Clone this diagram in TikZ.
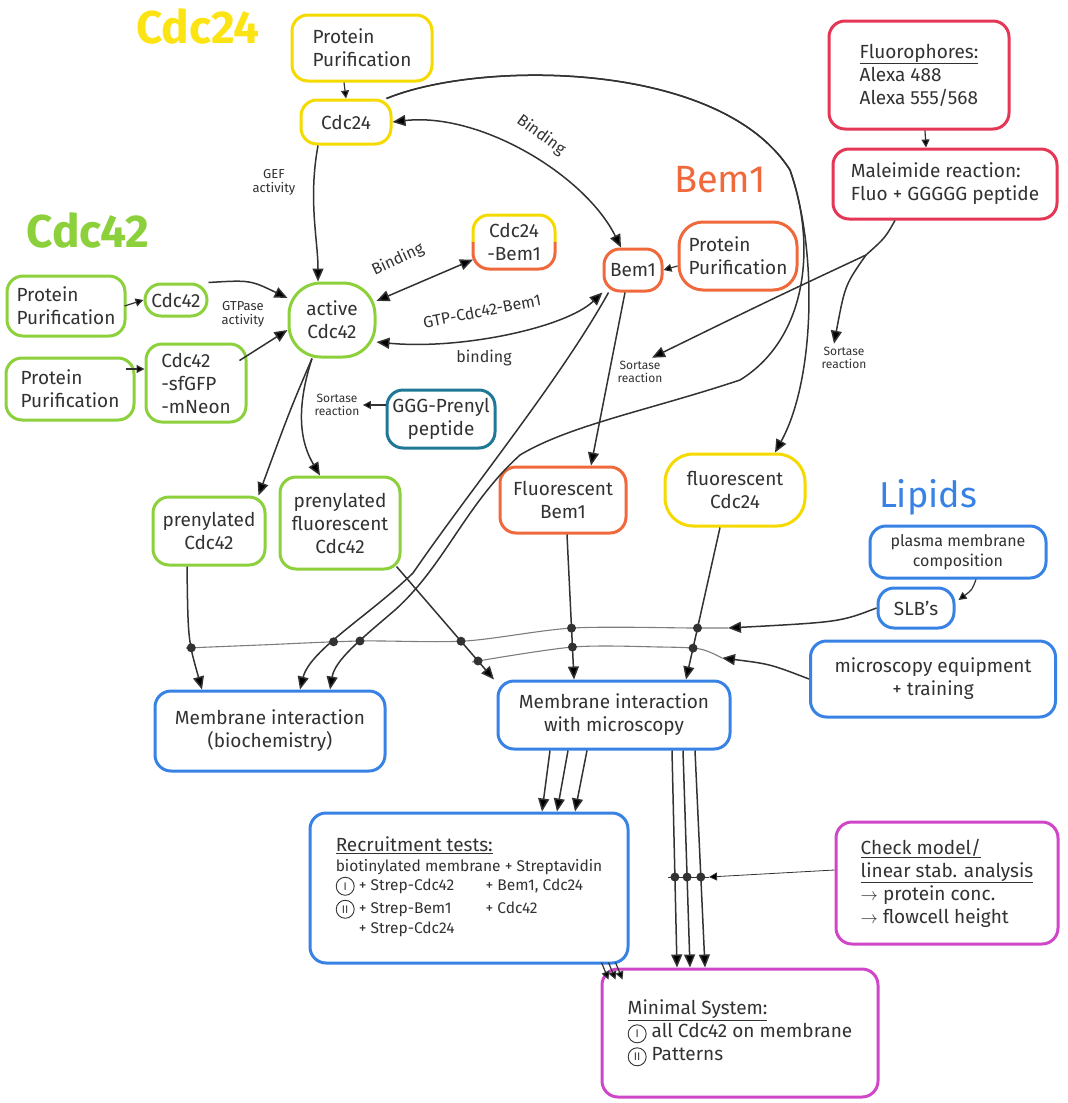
\documentclass[tikz,border=0pt]{standalone}
\usepackage{fontspec}
\setmainfont{Fira Sans}
\usepackage{tikz}
\usetikzlibrary{arrows.meta,shapes,calc,intersections}

\definecolor{ink}{RGB}{50,50,50}
\definecolor{busgray}{RGB}{125,125,125}
\definecolor{yel}{RGB}{245,218,0}
\definecolor{yelhead}{RGB}{252,228,20}
\definecolor{grn}{RGB}{140,208,60}
\definecolor{orn}{RGB}{240,105,60}
\definecolor{rd}{RGB}{228,55,85}
\definecolor{tel}{RGB}{30,120,150}
\definecolor{blu}{RGB}{55,130,228}
\definecolor{mag}{RGB}{208,70,200}

\tikzset{
	box/.style={fill=white, draw=#1, line width=3pt, rounded corners=16pt, align=center, text=ink, inner sep=4pt, font=\fontsize{19}{23}\selectfont},
	head/.style={text=#1, font=\fontsize{46}{50}\selectfont\bfseries},
	lbl/.style={text=ink, align=center, font=\fontsize{13}{14}\selectfont},
	flow/.style={draw=ink, line width=1.5pt, -{Triangle[length=13pt,width=11pt]}},
	flowboth/.style={draw=ink, line width=1.5pt, {Triangle[length=13pt,width=11pt]}-{Triangle[length=13pt,width=11pt]}},
	flowsmall/.style={draw=ink, line width=1.2pt, -{Triangle[length=8pt,width=8pt]}},
	bus/.style={draw=busgray, line width=1.1pt},
	joint/.style={circle, fill=ink, inner sep=0pt, minimum size=9pt},
}

\newcommand{\rnum}[1]{\tikz[baseline=(r.base)]\node[draw=ink, circle, line width=0.9pt, inner sep=0.5pt, minimum size=18pt, font=\fontsize{11}{11}\selectfont] (r) {#1};}

\begin{document}
\begin{tikzpicture}[x=1pt, y=-1pt]
	\useasboundingbox (0,0) rectangle (1068,1103);

	\node [head=yelhead] (tcdc24) at (198,26) {Cdc24};
	\node [head=grn] (tcdc42) at (88,230) {Cdc42};
	\node [head=orn, font=\fontsize{38}{42}\selectfont] (tbem) at (720,180) {Bem1};
	\node [head=blu, font=\fontsize{36}{40}\selectfont] (tlip) at (928,497) {Lipids};

	\node [box=yel, minimum width=140pt, minimum height=66pt, align=left] (pp24) at (362,48) {Protein\\Purification};
	\node [box=yel, minimum width=90pt, minimum height=44pt] (cdc24) at (346,122) {Cdc24};
	\node [box=rd, minimum width=180pt, minimum height=108pt, align=left] (fluo) at (919,75) {\underline{Fluorophores:}\\Alexa 488\\Alexa 555/568};
	\node [box=rd, minimum width=224pt, minimum height=70pt, align=left] (mal) at (945,184) {Maleimide reaction:\\Fluo + GGGGG peptide};
	\node [box=none, outer sep=0pt, minimum width=82pt, minimum height=54pt] (c24b1) at (514,242) {Cdc24\\-Bem1};
	\begin{scope}
		\clip ($(c24b1.north west)+(-5,-5)$) rectangle ($(c24b1.east)+(5,0)$);
		\draw [yel, line width=3pt, rounded corners=16pt] (c24b1.south west) rectangle (c24b1.north east);
	\end{scope}
	\begin{scope}
		\clip ($(c24b1.west)+(-5,0)$) rectangle ($(c24b1.south east)+(5,5)$);
		\draw [orn, line width=3pt, rounded corners=16pt] (c24b1.south west) rectangle (c24b1.north east);
	\end{scope}
	\node [box=orn, minimum width=58pt, minimum height=42pt] (bem1) at (633,270) {Bem1};
	\node [box=orn, minimum width=118pt, minimum height=68pt, align=left, rounded corners=24pt] (ppbem) at (738,256) {Protein\\Purification};

	\node [box=grn, minimum width=118pt, minimum height=60pt, align=left] (pp42a) at (66,306) {Protein\\Purification};
	\node [box=grn, minimum width=62pt, minimum height=32pt] (cdc42) at (176,300) {Cdc42};
	\node [box=grn, minimum width=86pt, minimum height=74pt, rounded corners=32pt] (active) at (332,320) {active\\Cdc42};
	\node [box=grn, minimum width=128pt, minimum height=62pt, align=left] (pp42b) at (70,389) {Protein\\Purification};
	\node [box=grn, minimum width=100pt, minimum height=78pt, align=left] (sfgtp) at (196,383) {Cdc42\\-sfGFP\\-mNeon};
	\node [box=tel, minimum width=108pt, minimum height=58pt] (ggg) at (441,419) {GGG-Prenyl\\peptide};
	\node [box=grn, minimum width=112pt, minimum height=68pt] (prenyl) at (209,531) {prenylated\\Cdc42};
	\node [box=grn, minimum width=120pt, minimum height=92pt] (prenylfl) at (340,523) {prenylated\\fluorescent\\Cdc42};
	\node [box=orn, minimum width=126pt, minimum height=66pt] (fbem) at (563,500) {Fluorescent\\Bem1};
	\node [box=yel, minimum width=140pt, minimum height=72pt, rounded corners=28pt] (fc24) at (735,490) {fluorescent\\Cdc24};

	\node [box=blu, minimum width=176pt, minimum height=52pt, font=\fontsize{16}{20}\selectfont] (pmc) at (958,552) {plasma membrane\\composition};
	\node [box=blu, minimum width=76pt, minimum height=40pt] (slb) at (916,608) {SLB's};
	\node [box=blu, minimum width=245pt, minimum height=76pt] (micro) at (933,679) {microscopy equipment\\+ training};
	\node [box=blu, minimum width=230pt, minimum height=80pt] (mib) at (270,731) {Membrane interaction\\(biochemistry)};
	\node [box=blu, minimum width=232pt, minimum height=68pt] (mim) at (614,715) {Membrane interaction\\with microscopy};

	\node [box=blu, minimum width=318pt, minimum height=150pt, align=left, font=\fontsize{15.5}{20}\selectfont] (rec) at (469,888) {{\fontsize{19}{23}\selectfont\underline{Recruitment tests:}}\\
		biotinylated membrane + Streptavidin\\
		\begin{tabular}{@{}l@{\ }l@{\qquad}l@{}}
			\rnum{I} & + Strep-Cdc42 & + Bem1, Cdc24\\[3pt]
			\rnum{II} & + Strep-Bem1 & + Cdc42\\
			& + Strep-Cdc24 &
		\end{tabular}};
	\node [box=mag, minimum width=222pt, minimum height=122pt, align=left] (check) at (947,883) {\underline{Check model/}\\\underline{linear stab. analysis}\\$\to$ protein conc.\\$\to$ flowcell height};
	\node [box=mag, minimum width=276pt, minimum height=128pt, align=left] (minsys) at (740,1033) {\underline{Minimal System:}\\\rnum{I} all Cdc42 on membrane\\\rnum{II} Patterns};

	\node [lbl] (lgef) at (274,182) {GEF\\activity};
	\node [lbl, font=\fontsize{16}{17}\selectfont, rotate=-36] (lbind1) at (541,135) {Binding};
	\node [lbl, font=\fontsize{16}{17}\selectfont, rotate=25] (lbind2) at (398,260) {Binding};
	\node [lbl, font=\fontsize{16}{17}\selectfont, rotate=11] (lgtp) at (482,311) {GTP-Cdc42-Bem1};
	\node [lbl, font=\fontsize{16}{17}\selectfont] (lgtpb) at (484,358) {binding};
	\node [lbl] (lgtpase) at (243,314) {GTPase\\activity};
	\node [lbl, font=\fontsize{12}{13}\selectfont] (srtA) at (337,405) {Sortase\\reaction};
	\node [lbl, font=\fontsize{12}{13}\selectfont] (srtB) at (640,372) {Sortase\\reaction};
	\node [lbl, font=\fontsize{12}{13}\selectfont] (srtC) at (844,358) {Sortase\\reaction};

	\draw [flowsmall] ([xshift=-18pt]pp24.south) to (cdc24.north);
	\draw [flow] ([xshift=-28pt]cdc24.south) .. controls (308,200) and (318,240) .. ([xshift=-14pt]active.north);
	\draw [flowboth] (cdc24.east) .. controls (480,112) and (585,175) .. ([xshift=-12pt]bem1.north);
	\draw [flow] ([xshift=-6pt]cdc24.north east) .. controls (480,60) and (720,60) .. (790,170) .. controls (818,250) and (815,380) .. ([xshift=40pt]fc24.north);
	\draw [flow, name path=eCdc] ([xshift=-6pt]cdc24.north east) .. controls (480,60) and (720,60) .. (790,170) .. controls (818,250) and (805,340) .. (740,380) .. controls (650,410) and (570,425) .. (520,455) .. controls (465,505) and (445,565) .. (395,610) .. controls (360,640) and (335,660) .. ([xshift=60pt]mib.north);
	\draw [flowboth] (active) to (c24b1);
	\draw [flowboth] (bem1.south west) .. controls (565,328) and (460,350) .. ([yshift=-22pt]active.east);
	\draw [flowsmall] ([yshift=-10pt]ppbem.west) to (bem1.east);

	\draw [flowsmall] ([xshift=6pt]fluo.south) to ([xshift=-19pt]mal.north);
	\coordinate (mbr) at (866,255);
	\draw [flow] ([xshift=-50pt]mal.south) .. controls (885,238) .. (mbr) .. controls (770,300) .. ([xshift=12pt]srtB.north);
	\draw [flow] (mbr) .. controls (845,285) .. ([xshift=-10pt]srtC.north);
	\draw [flowsmall] (ggg.west |- srtA.east) to (srtA.east);

	\draw [flowsmall] ([xshift=-2pt]pp42a.east) to (cdc42.west);
	\draw [flowsmall] ([xshift=-10pt,yshift=20pt]pp42b.east) to ([yshift=14pt]sfgtp.west);
	\draw [flow] (cdc42.north east) .. controls (250,280) .. ([yshift=22pt]active.west);
	\draw [flow] ([xshift=-8pt,yshift=-18pt]sfgtp.north east) to ([yshift=-10pt]active.west);
	\draw [flow] ([xshift=-20pt]active.south) .. controls (290,410) .. ([xshift=-8pt]prenyl.north east);
	\draw [flow] ([xshift=-20pt]active.south) .. controls (292,420) and (305,450) .. ([xshift=-20pt]prenylfl.north);

	\draw [flow] ([xshift=-8pt]bem1.south) to ([xshift=28pt]fbem.north);
	\draw [flow, name path=eBem] ([xshift=6pt]bem1.south west) .. controls (560,380) and (470,490) .. (413,573) .. controls (370,615) and (310,650) .. ([xshift=30pt]mib.north);
	\draw [flow, name path=ePre] ([xshift=-22pt]prenyl.south) .. controls (188,640) .. ([xshift=-68pt]mib.north);
	\draw [flow, name path=eFl] ([xshift=-5pt,yshift=4pt]prenylfl.south east) to ([xshift=-120pt]mim.north);
	\draw [flow, name path=eFb] ([xshift=4pt]fbem.south) to ([xshift=-40pt]mim.north);
	\draw [flow, name path=eFc] ([xshift=-15pt]fc24.south) to ([xshift=72pt]mim.north);

	\draw [flowsmall] ([xshift=18pt]pmc.south) .. controls (972,590) .. ([xshift=3pt,yshift=8pt]slb.east);
	\coordinate (b1r) at (728,628);
	\coordinate (b2r) at (722,658);
	\draw [bus, name path=bus1] plot [smooth] coordinates {(b1r) (695,628) (573,628) (465,641) (360,641) (260,645) (186,648)};
	\draw [bus, name path=bus2] plot [smooth] coordinates {(b2r) (700,649) (660,647) (573,647) (472,662)};
	\draw [flow] (slb.west) .. controls (840,622) .. (b1r);
	\draw [flow] (micro.west) .. controls (770,664) .. (b2r);
	\foreach \e in {ePre,eBem,eCdc,eFl,eFb,eFc}
		\path [name intersections={of=bus1 and \e}] (intersection-1) node [joint] {};
	\foreach \e in {eFl,eFb,eFc}
		\path [name intersections={of=bus2 and \e}] (intersection-1) node [joint] {};

	\foreach \a/\b in {-64/73, -46/88, -27/106}
		\draw [flow] ([xshift=\a pt]mim.south) to ([xshift=\b pt]rec.north);
	\foreach \a/\b [count=\i] in {58/-63, 69/-50, 81/-35}
		\draw [flow, name path=ms\i] ([xshift=\a pt]mim.south) to ([xshift=\b pt]minsys.north);
	\coordinate (ckl) at (668,877);
	\coordinate (ckr) at (709,877);
	\draw [ink, line width=0.9pt, name path=ckbus] (ckl) to (ckr);
	\draw [flowsmall, line width=0.8pt] ([yshift=13pt]check.west) to (ckr);
	\foreach \i in {1,2,3}
		\path [name intersections={of=ckbus and ms\i}] (intersection-1) node [joint] {};
	\foreach \d in {0,7,14}
		\draw [flowsmall] ($(rec.south east)+(\d-28,-2)$) to ($(minsys.north west)+(\d+8,12)$);
\end{tikzpicture}
\end{document}
